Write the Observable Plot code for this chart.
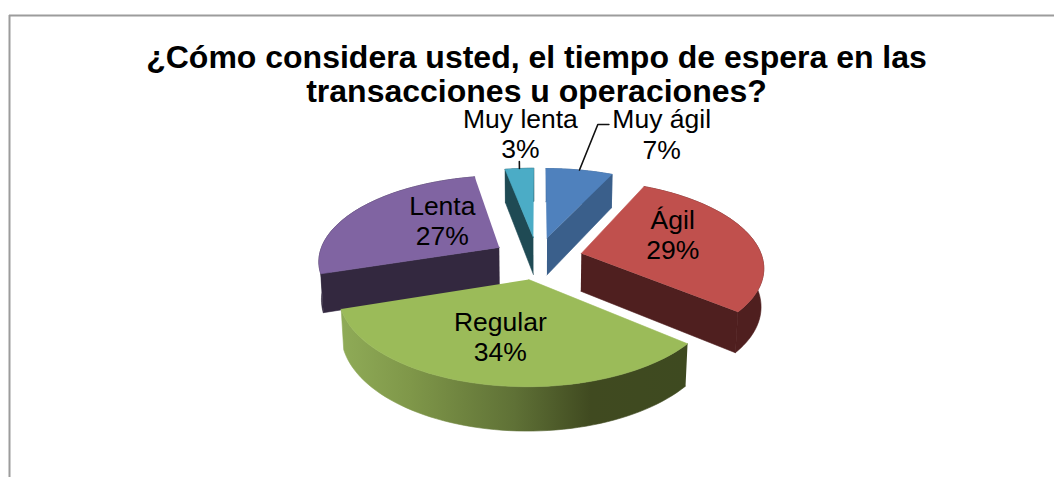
<!DOCTYPE html>
<html>
<head>
<meta charset="utf-8">
<script src="https://cdn.jsdelivr.net/npm/d3@7"></script>
<script src="https://cdn.jsdelivr.net/npm/@observablehq/plot@0.6"></script>
<style>html,body{margin:0;padding:0;background:#fff}svg{display:block}</style>
</head>
<body>
<div id="chart"></div>
<script>
const categories = ["Muy ágil", "Ágil", "Regular", "Lenta", "Muy lenta"];
const percents = [7, 29, 34, 27, 3];
const titleLines = ["¿Cómo considera usted, el tiempo de espera en las", "transacciones u operaciones?"];
const topColors = ["#4f81bd", "#c0504d", "#9bbb59", "#8064a2", "#4bacc6"];
const wallColors = ["#3a5f8b", "#4f1f1f", "url(#greenWall)", "#33283f", "#1f4a54"];
// label centres on the pie's floor plane (unit radius)
const labelX = [0.87, 0.778, -0.181, -0.562, -0.12];
const labelY = [1.861, 0.289, -0.815, 0.476, 1.871];
// leader lines: [slice index, bend points on the floor plane]
const leaders = [
  {slice: 0, bends: [[0.431, 2.036], [0.51, 2.036]]},
  {slice: 4, bends: [[-0.12, 1.361]]}
];

const W = 1054, H = 477;
const view = {cx: 537, cy: 257.5, A: 181, B: 84.8, D: 38.5, p: 0.144, q: 0.012, explode: 0.25};

function project(X, Y, z) { // z = 0 top face, z = 1 bottom face
  const s = 1 / (1 + view.p * Y + view.q * z);
  return {x: view.cx + view.A * X * s, y: view.cy + (-view.B * Y + view.D * z) * s};
}

const total = d3.sum(percents);
let acc = 0;
const slices = percents.map((v, i) => {
  const a0 = acc / total * 2 * Math.PI; acc += v;
  const a1 = acc / total * 2 * Math.PI;
  const mid = (a0 + a1) / 2;
  return {i, a0, a1, mid, ox: view.explode * Math.sin(mid), oy: view.explode * Math.cos(mid)};
});

const rim = (s, a, z) => project(s.ox + Math.sin(a), s.oy + Math.cos(a), z);
const apex = (s, z) => project(s.ox, s.oy, z);
const arc = (s, z) => d3.range(0, 61).map(k => rim(s, s.a0 + (s.a1 - s.a0) * k / 60, z));

const poly = (pts, fill) => Plot.line(pts, {x: "x", y: "y", fill, stroke: fill, strokeWidth: 0.6, curve: "linear"});

const marks = [];
// gradient definition for the shaded rim of the front slice
marks.push(() => {
  const ns = "http://www.w3.org/2000/svg";
  const defs = document.createElementNS(ns, "defs");
  const g = document.createElementNS(ns, "linearGradient");
  g.setAttribute("id", "greenWall");
  [[0, "#8fab57"], [0.2, "#7f9749"], [0.5, "#5f7136"], [0.72, "#404a20"], [1, "#3e4a20"]].forEach(([o, c]) => {
    const st = document.createElementNS(ns, "stop");
    st.setAttribute("offset", o);
    st.setAttribute("stop-color", c);
    g.appendChild(st);
  });
  defs.appendChild(g);
  return defs;
});

marks.push(Plot.ruleX([9], {y1: 15, y2: H, stroke: "#9c9c9c", strokeWidth: 2}));
marks.push(Plot.ruleY([15], {x1: 9, x2: W, stroke: "#9c9c9c", strokeWidth: 2}));

// painter's order: back slices first
[0, 4, 3, 1, 2].forEach(i => {
  const s = slices[i], wall = wallColors[i];
  marks.push(poly([...arc(s, 0), ...arc(s, 1).reverse()], wall));
  if (Math.sin(s.a0) < -1e-6) marks.push(poly([apex(s, 0), rim(s, s.a0, 0), rim(s, s.a0, 1), apex(s, 1)], wall));
  if (Math.sin(s.a1) > 1e-6) marks.push(poly([apex(s, 0), rim(s, s.a1, 0), rim(s, s.a1, 1), apex(s, 1)], wall));
  marks.push(poly([apex(s, 0), ...arc(s, 0)], topColors[i]));
});

leaders.forEach(({slice, bends}) => {
  const s = slices[slice];
  const pts = [rim(s, s.mid, 0), ...bends.map(([X, Y]) => project(X, Y, 0))];
  marks.push(Plot.line(pts, {x: "x", y: "y", stroke: "#111", strokeWidth: 1.6, curve: "linear"}));
});

const labels = categories.map((c, i) => ({...project(labelX[i], labelY[i], 0), text: `${c}\n${percents[i]}%`}));
marks.push(Plot.text(labels, {x: "x", y: "y", text: "text", fontSize: 26.5, lineHeight: 1.15, fill: "#000", fontFamily: "Liberation Sans", textAnchor: "middle"}));

marks.push(Plot.text(titleLines.map((t, i) => ({t, y: 57 + i * 34})), {
  x: () => view.cx - 1, y: "y", text: "t", fontSize: 32, fontWeight: "bold", fill: "#000",
  fontFamily: "Liberation Sans", textAnchor: "middle"
}));

const chart = Plot.plot({
  width: W, height: H, margin: 0,
  x: {domain: [0, W], axis: null},
  y: {domain: [H, 0], axis: null},
  style: {background: "#fff"},
  marks
});
document.getElementById("chart").appendChild(chart);
</script>
</body>
</html>
